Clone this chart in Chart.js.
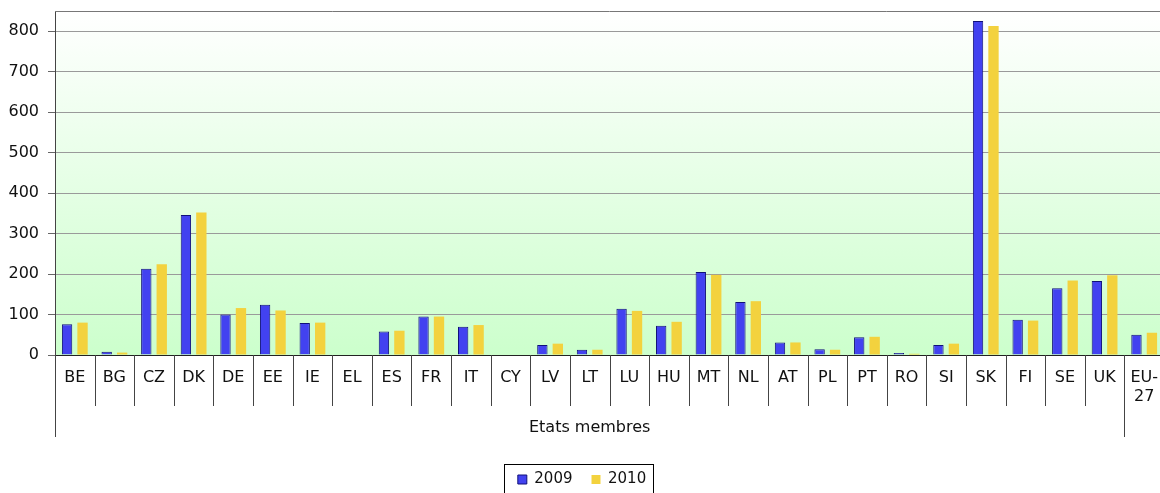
<!DOCTYPE html>
<html>
<head>
<meta charset="utf-8">
<script src="https://cdn.jsdelivr.net/npm/chart.js@4.4.0/dist/chart.umd.min.js"></script>
<style>
html, body { margin: 0; padding: 0; overflow: hidden; background: #fff; }
#wrap { position: relative; width: 1164px; height: 497px; }
</style>
</head>
<body>
<div id="wrap"><canvas id="chart"></canvas></div>
<script>
// ---- données ----
const categories = ['BE','BG','CZ','DK','DE','EE','IE','EL','ES','FR','IT','CY','LV','LT','LU','HU','MT','NL','AT','PL','PT','RO','SI','SK','FI','SE','UK','EU-27'];
const values2009 = [76, 8, 213, 346, 100, 124, 79, null, 58, 95, 70, null, 25, 13, 114, 72, 205, 131, 31, 14, 44, 5, 25, 825, 87, 165, 183, 50];
const values2010 = [80, 6, 224, 352, 116, 110, 80, null, 60, 95, 74, null, 28, 13, 109, 82, 198, 133, 31, 13, 45, 3, 28, 813, 85, 184, 197, 55];
const yTicks = [0, 100, 200, 300, 400, 500, 600, 700, 800];
const groupTitle = 'Etats membres';
const groupEnd = 'EU-27';   // dernière catégorie hors du groupe

const FONT = 'DejaVu Sans, Verdana, sans-serif';
const TEXT = '#111';

// fond dégradé de la zone du graphique
const plotBackground = {
    id: 'plotBackground',
    beforeDraw(chart) {
        const { ctx, chartArea: a } = chart;
        const g = ctx.createLinearGradient(0, a.top, 0, a.bottom);
        g.addColorStop(0, '#ffffff');
        g.addColorStop(1, '#ccffcc');
        ctx.save();
        ctx.fillStyle = g;
        ctx.fillRect(a.left, a.top, a.right - a.left, a.bottom - a.top);
        ctx.restore();
    }
};

// cadre haut, séparateurs de catégories, titre du groupe, cadre de légende
const categoryFrame = {
    id: 'categoryFrame',
    afterDraw(chart) {
        const { ctx, chartArea: a } = chart;
        const x = chart.scales.x;
        ctx.save();
        ctx.strokeStyle = '#777';
        ctx.lineWidth = 1;
        ctx.beginPath();
        ctx.moveTo(a.left, a.top + 0.5);
        ctx.lineTo(a.right, a.top + 0.5);
        ctx.stroke();

        ctx.strokeStyle = '#444';
        const endIdx = categories.indexOf(groupEnd);
        for (let i = 0; i <= categories.length; i++) {
            const px = Math.round(x.getPixelForValue(i - 0.5)) + 0.5;
            const long = (i === 0 || i === endIdx);
            ctx.beginPath();
            ctx.moveTo(px, a.bottom);
            ctx.lineTo(px, a.bottom + (long ? 82 : 51));
            ctx.stroke();
        }

        const gx = (x.getPixelForValue(-0.5) + x.getPixelForValue(endIdx - 0.5)) / 2;
        ctx.fillStyle = TEXT;
        ctx.font = '16px ' + FONT;
        ctx.textAlign = 'center';
        ctx.textBaseline = 'middle';
        ctx.fillText(groupTitle, gx, a.bottom + 73);

        const boxes = chart.legend.legendHitBoxes;
        if (boxes && boxes.length) {
            const first = boxes[0], last = boxes[boxes.length - 1];
            const l = Math.round(first.left - 14) + 0.5;
            const r = Math.round(last.left + last.width + 7) + 0.5;
            const t = Math.round(first.top - 8) + 0.5;
            ctx.strokeStyle = '#000';
            ctx.strokeRect(l, t, r - l, chart.height - t + 5);
        }
        ctx.restore();
    }
};

new Chart(document.getElementById('chart'), {
    type: 'bar',
    data: {
        labels: categories,
        datasets: [
            { label: '2009', data: values2009, backgroundColor: '#4242f0', borderColor: '#10107a', borderWidth: 1,
              categoryPercentage: 0.78, barPercentage: 0.67 },
            { label: '2010', data: values2010, backgroundColor: '#f3d23e', borderWidth: 0,
              categoryPercentage: 0.78, barPercentage: 0.67 }
        ]
    },
    options: {
        responsive: true,
        maintainAspectRatio: false,
        devicePixelRatio: 1,
        animation: false,
        layout: { padding: { top: 11, left: 0, right: 0, bottom: 0 } },
        plugins: {
            tooltip: { enabled: false },
            legend: {
                position: 'bottom',
                labels: { boxWidth: 9, boxHeight: 9, padding: 19, color: TEXT, font: { family: FONT, size: 15 } }
            }
        },
        scales: {
            x: {
                grid: { display: false, drawTicks: false, tickLength: 0 },
                border: { display: true, color: '#222', width: 1 },
                ticks: {
                    color: TEXT, padding: 13, maxRotation: 0, autoSkip: false,
                    font: { family: FONT, size: 16, lineHeight: 1.2 },
                    callback: function (v) {
                        const l = this.getLabelForValue(v);
                        return l === 'EU-27' ? ['EU-', '27'] : l;
                    }
                },
                afterFit(scale) {
                    scale.height = 98;
                    scale.paddingLeft = 0;
                    scale.paddingRight = 0;
                }
            },
            y: {
                min: 0,
                max: 850,
                afterBuildTicks(scale) { scale.ticks = yTicks.map(v => ({ value: v })); },
                grid: { color: '#9a9a9a', lineWidth: 1, tickLength: 7, tickColor: '#666' },
                border: { display: true, color: '#444', width: 1 },
                ticks: { color: TEXT, padding: 9, font: { family: FONT, size: 16 } },
                afterFit(scale) {
                    scale.width = 55;
                    scale.paddingTop = 0;
                    scale.paddingBottom = 0;
                }
            }
        }
    },
    plugins: [plotBackground, categoryFrame]
});
</script>
</body>
</html>
